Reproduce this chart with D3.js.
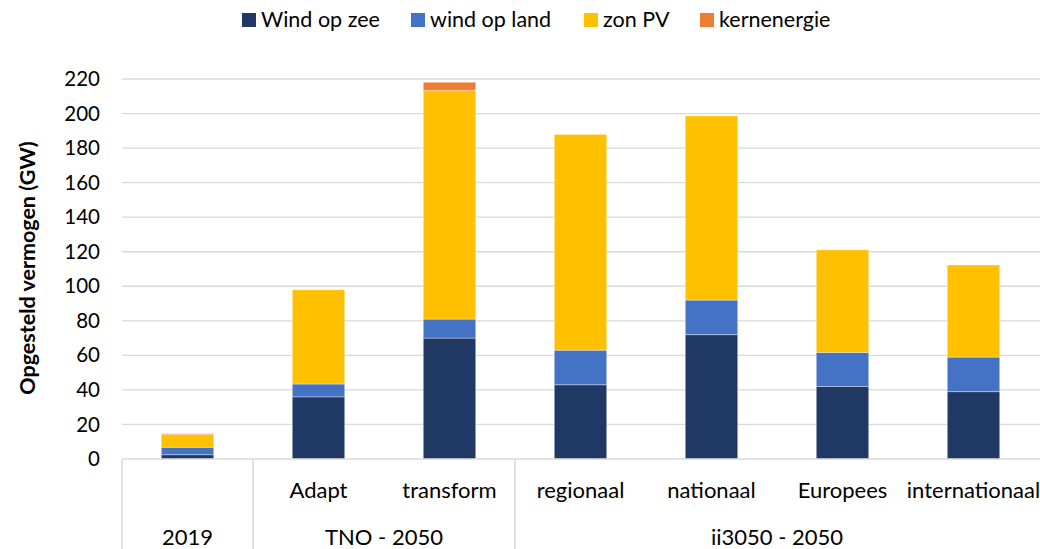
<!DOCTYPE html>
<html>
<head>
<meta charset="utf-8">
<script src="https://cdn.jsdelivr.net/npm/d3@7"></script>
<style>
  html, body { margin: 0; padding: 0; background: #fff; }
  svg { display: block; font-family: Lato, "Open Sans", sans-serif; }
</style>
</head>
<body>
<svg id="chart" width="1040" height="549"></svg>
<script>
// Categories (lower tier label per bar) and their grouping
const categories = ["2019", "Adapt", "transform", "regionaal", "nationaal", "Europees", "internationaal"];
const subLabels = ["", "Adapt", "transform", "regionaal", "nationaal", "Europees", "internationaal"];
const groupLabels = ["2019", "TNO - 2050", "ii3050 - 2050"];
const groupSizes = [1, 2, 4];

// Installed capacity per technology (GW)
const windOpZee = [2.5, 36, 70, 43, 72, 42, 39];
const windOpLand = [4.3, 7.4, 11, 20, 20, 19.7, 20];
const zonPV = [7.3, 54.6, 132.3, 124.9, 106.6, 59.4, 53.3];
const kernenergie = [0.5, 0, 4.8, 0, 0, 0, 0];

const seriesNames = ["Wind op zee", "wind op land", "zon PV", "kernenergie"];
const seriesColors = ["#203864", "#4472C4", "#FFC000", "#ED7D31"];
const yTicks = [0, 20, 40, 60, 80, 100, 120, 140, 160, 180, 200, 220];

const svg = d3.select("#chart");
const plotLeft = 122, plotRight = 1039, plotTop = 79, plotBottom = 459, boxBottom = 549;

const x = d3.scaleBand().domain(categories).range([plotLeft, plotRight]).paddingInner(0.6).paddingOuter(0.3);
const y = d3.scaleLinear().domain([0, 220]).range([plotBottom, plotTop]);

// Table for stacking
const rows = categories.map((c, i) => ({
  cat: c,
  "Wind op zee": windOpZee[i],
  "wind op land": windOpLand[i],
  "zon PV": zonPV[i],
  "kernenergie": kernenergie[i]
}));
const stacked = d3.stack().keys(seriesNames)(rows);

// Gridlines
svg.append("g")
  .selectAll("line")
  .data(yTicks.filter(t => t > 0))
  .join("line")
  .attr("x1", plotLeft).attr("x2", 1040)
  .attr("y1", d => y(d)).attr("y2", d => y(d))
  .attr("stroke", "#d9d9d9").attr("stroke-width", 1.3);

// Y axis labels
const yAxis = d3.axisLeft(y).tickValues(yTicks).tickSize(0).tickPadding(0);
const yg = svg.append("g").attr("transform", `translate(${100},0)`).call(yAxis);
yg.select(".domain").remove();
yg.selectAll("text")
  .attr("font-family", "Lato, sans-serif")
  .attr("font-size", 20.5)
  .attr("fill", "#000");

// Bars
svg.append("g")
  .selectAll("g")
  .data(stacked)
  .join("g")
  .attr("fill", (d, i) => seriesColors[i])
  .selectAll("rect")
  .data(d => d.filter(s => s[1] - s[0] > 0))
  .join("rect")
  .attr("x", d => x(d.data.cat))
  .attr("width", x.bandwidth())
  .attr("y", d => y(d[1]))
  .attr("height", d => y(d[0]) - y(d[1]))
  .attr("stroke", "#ffffff").attr("stroke-opacity", 0.35).attr("stroke-width", 1);

// Category axis box
const boxColor = "#d9d9d9";
svg.append("line")
  .attr("x1", plotLeft).attr("x2", 1040).attr("y1", plotBottom).attr("y2", plotBottom)
  .attr("stroke", boxColor).attr("stroke-width", 1.5);

// Group boundaries
let acc = 0;
const bounds = [plotLeft];
groupSizes.forEach(n => {
  acc += n;
  bounds.push(acc < categories.length ? x(categories[acc]) - x.step() * x.paddingInner() / 2 : plotRight);
});
svg.append("g")
  .selectAll("line")
  .data(bounds.slice(0, -1))
  .join("line")
  .attr("x1", d => d).attr("x2", d => d)
  .attr("y1", plotBottom).attr("y2", boxBottom)
  .attr("stroke", boxColor).attr("stroke-width", 1.5);

// Lower tier labels
svg.append("g")
  .selectAll("text")
  .data(categories)
  .join("text")
  .attr("x", d => x(d) + x.bandwidth() / 2)
  .attr("y", 498)
  .attr("text-anchor", "middle")
  .attr("font-size", 22)
  .attr("fill", "#000")
  .text((d, i) => subLabels[i]);

// Group labels
svg.append("g")
  .selectAll("text")
  .data(groupLabels)
  .join("text")
  .attr("x", (d, i) => (bounds[i] + bounds[i + 1]) / 2)
  .attr("y", 545)
  .attr("text-anchor", "middle")
  .attr("font-size", 22)
  .attr("fill", "#000")
  .text(d => d);

// Y axis title
svg.append("text")
  .attr("transform", `translate(35,${(plotTop + plotBottom) / 2 - 1}) rotate(-90)`)
  .attr("text-anchor", "middle")
  .attr("font-size", 21.5)
  .attr("font-weight", "bold")
  .attr("fill", "#000")
  .text("Opgesteld vermogen (GW)");

// Legend
const legendX = [242, 411, 584, 700];
const lg = svg.append("g")
  .selectAll("g")
  .data(seriesNames)
  .join("g")
  .attr("transform", (d, i) => `translate(${legendX[i]},13)`);
lg.append("rect").attr("width", 14).attr("height", 14).attr("fill", (d, i) => seriesColors[i]);
lg.append("text")
  .attr("x", 19).attr("y", 14)
  .attr("font-size", 21.5)
  .attr("fill", "#000")
  .text(d => d);
</script>
</body>
</html>
